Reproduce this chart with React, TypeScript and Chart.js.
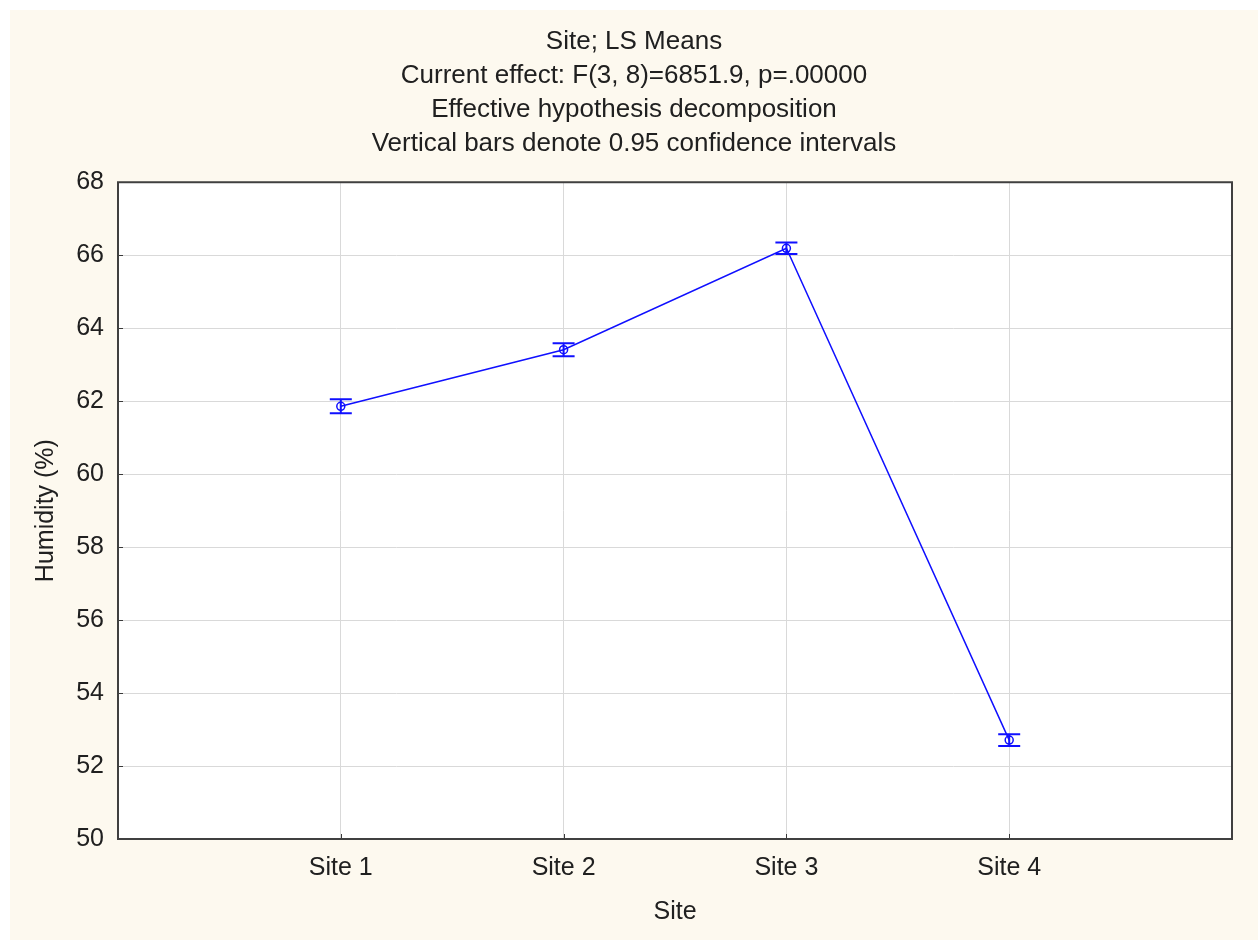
import React, { useEffect, useRef } from "react";
import { Chart, registerables } from "chart.js";

Chart.register(...registerables);

const titleLines = [
  "Site; LS Means",
  "Current effect: F(3, 8)=6851.9, p=.00000",
  "Effective hypothesis decomposition",
  "Vertical bars denote 0.95 confidence intervals",
];
const sites = ["Site 1", "Site 2", "Site 3", "Site 4"];
const means = [61.86, 63.41, 66.19, 52.71];
const ciHalf = [0.19, 0.18, 0.16, 0.16];
const yMin = 50;
const yMax = 68;
const yStep = 2;

const FONT = "'Liberation Sans', Arial, sans-serif";
const TEXT = "#202020";
const BLUE = "#1010ff";

const framePlugin = {
  id: "frame",
  beforeDraw(chart: any) {
    const { ctx, chartArea: a, width, height } = chart;
    ctx.save();
    ctx.fillStyle = "#fdf9ef";
    ctx.fillRect(0, 0, width, height);
    ctx.fillStyle = "#ffffff";
    ctx.fillRect(a.left, a.top, a.right - a.left, a.bottom - a.top);
    ctx.restore();
  },
  afterDatasetsDraw(chart: any) {
    const { ctx } = chart;
    const xs = chart.scales.x;
    const ys = chart.scales.y;
    ctx.save();
    ctx.strokeStyle = BLUE;
    ctx.lineWidth = 2;
    means.forEach((m, i) => {
      const px = xs.getPixelForValue(i + 1);
      const top = ys.getPixelForValue(m + ciHalf[i]);
      const bot = ys.getPixelForValue(m - ciHalf[i]);
      ctx.beginPath();
      ctx.moveTo(px, top);
      ctx.lineTo(px, bot);
      ctx.moveTo(px - 11, top);
      ctx.lineTo(px + 11, top);
      ctx.moveTo(px - 11, bot);
      ctx.lineTo(px + 11, bot);
      ctx.stroke();
    });
    ctx.restore();
  },
  afterDraw(chart: any) {
    const { ctx, chartArea: a } = chart;
    const xs = chart.scales.x;
    const ys = chart.scales.y;
    ctx.save();
    ctx.strokeStyle = "#3a3a3a";
    ctx.lineWidth = 1;
    ctx.beginPath();
    for (let v = yMin; v <= yMax; v += yStep) {
      const py = Math.round(ys.getPixelForValue(v)) + 0.5;
      ctx.moveTo(a.left, py);
      ctx.lineTo(a.left + 5, py);
    }
    sites.forEach((_, i) => {
      const px = Math.round(xs.getPixelForValue(i + 1)) + 0.5;
      ctx.moveTo(px, a.bottom);
      ctx.lineTo(px, a.bottom - 5);
    });
    ctx.stroke();
    ctx.lineWidth = 2;
    ctx.strokeStyle = "#404040";
    ctx.strokeRect(a.left, a.top, a.right - a.left, a.bottom - a.top);
    ctx.restore();
  },
};

export default function App() {
  const ref = useRef<HTMLCanvasElement | null>(null);
  useEffect(() => {
    document.body.style.margin = "0";
    const canvas = ref.current!;
    const chart = new Chart(canvas, {
      type: "line",
      data: {
        datasets: [
          {
            data: means.map((m, i) => ({ x: i + 1, y: m })),
            borderColor: BLUE,
            borderWidth: 1.5,
            pointStyle: "circle",
            pointRadius: 4,
            pointBorderWidth: 1.5,
            pointBorderColor: BLUE,
            pointBackgroundColor: "rgba(0,0,0,0)",
            tension: 0,
          },
        ],
      },
      options: {
        animation: false,
        responsive: false,
        events: [],
        layout: { padding: { right: 26, left: 26, top: 0, bottom: 0 } },
        plugins: {
          legend: { display: false },
          tooltip: { enabled: false },
          title: {
            display: true,
            text: titleLines,
            color: TEXT,
            font: { family: FONT, size: 26, weight: "normal", lineHeight: 1.31 },
            padding: { top: 15, bottom: 21 },
          },
        },
        scales: {
          x: {
            type: "linear",
            min: 0,
            max: 5,
            afterFit(s: any) {
              s.height = 101;
            },
            afterBuildTicks(s: any) {
              s.ticks = [0, 1, 2, 3, 4, 5].map((v) => ({ value: v }));
            },
            ticks: {
              autoSkip: false,
              maxRotation: 0,
              padding: 14,
              color: TEXT,
              font: { family: FONT, size: 25 },
              callback: (v: any) => (v >= 1 && v <= sites.length ? sites[v - 1] : ""),
            },
            grid: { color: "#d9d9d9", lineWidth: 1, drawTicks: false },
            border: { display: false },
            title: {
              display: true,
              text: "Site",
              color: TEXT,
              font: { family: FONT, size: 25 },
              padding: { top: 0, bottom: 13 },
            },
          },
          y: {
            type: "linear",
            min: yMin,
            max: yMax,
            afterFit(s: any) {
              s.width = 82;
            },
            ticks: {
              stepSize: yStep,
              padding: 14,
              color: TEXT,
              font: { family: FONT, size: 25 },
            },
            grid: { color: "#d9d9d9", lineWidth: 1, drawTicks: false },
            border: { display: false },
            title: {
              display: true,
              text: "Humidity (%)",
              color: TEXT,
              font: { family: FONT, size: 25 },
              padding: { top: -5, bottom: 0 },
            },
          },
        },
      } as any,
      plugins: [framePlugin],
    });
    return () => chart.destroy();
  }, []);
  return (
    <div style={{ width: 1258, height: 940, background: "#ffffff", position: "relative" }}>
      <canvas
        ref={ref}
        width={1248}
        height={930}
        style={{ position: "absolute", left: 10, top: 10, width: 1248, height: 930 }}
      />
    </div>
  );
}
